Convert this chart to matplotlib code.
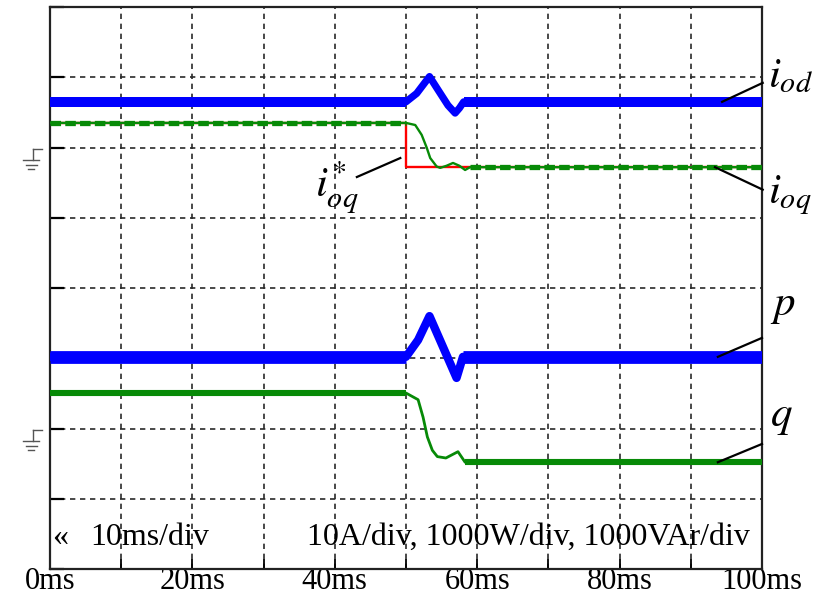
import numpy as np
import matplotlib
matplotlib.use('Agg')
import matplotlib.pyplot as plt
import matplotlib.transforms as mtransforms

plt.rcParams['font.family'] = ['Liberation Serif', 'DejaVu Serif']
plt.rcParams['mathtext.fontset'] = 'stix'

# ---- scope traces (time in ms) ----
# output current d axis (A)
t_iod = [0, 50, 51.5, 53.3, 54.5, 55.9, 56.9, 57.5, 58.1, 100]
iod = [6.5, 6.5, 7.7, 10.1, 8.2, 6.0, 4.9, 5.6, 6.5, 6.5]

# output current q axis (A)
t_ioq = [0, 50, 51.3, 52.2, 52.9, 53.4, 54.3, 54.8, 55.7, 56.6, 57.5, 58.3, 59.0, 100]
ioq = [3.5, 3.5, 3.2, 1.8, 0.0, -1.5, -2.7, -2.9, -2.6, -2.2, -2.6, -3.2, -2.8, -2.8]

# q axis current reference (A)
t_ioq_ref = [0, 50, 50, 100]
ioq_ref = [3.5, 3.5, -2.8, -2.8]

# active power (W)
t_p = [0, 50, 51.7, 53.3, 57.1, 58.0, 100]
p = [1020, 1020, 1260, 1600, 720, 1020, 1020]

# reactive power (VAr)
t_q = [0, 50, 51.7, 52.4, 53.0, 53.7, 54.4, 55.6, 57.3, 58.3, 100]
q = [505, 505, 410, 160, -120, -310, -400, -420, -330, -480, -480]

# channel grounds (div) and scales (unit per div)
cur_gnd, cur_scale = 6, 10
pow_gnd, pow_scale = 2, 1000

x_ticks = np.arange(0, 101, 10)
x_labels = ['0ms', '', '20ms', '', '40ms', '', '60ms', '', '80ms', '', '100ms']


def to_div(v, gnd, scale):
    return gnd + np.asarray(v, float) / scale


def draw_trace(ax, t, v, color, lw_band, lw_move, **kw):
    # thin line through the transient, thick noisy band in steady state
    ax.plot(t, v, color=color, lw=lw_move, solid_capstyle='butt', zorder=3)
    ax.plot(t[:2], v[:2], color=color, lw=lw_band, solid_capstyle='butt', zorder=3, **kw)
    ax.plot(t[-2:], v[-2:], color=color, lw=lw_band, solid_capstyle='butt', zorder=3, **kw)


def ground_mark(ax, level):
    # little earth symbol left of the frame, in pixel offsets
    tr = mtransforms.blended_transform_factory(ax.transAxes, ax.transData)
    px_x = 1 / 712.0
    px_y = 1 / 70.25
    segs = [((-17.3, -17.3), (-1, -12.5)),
            ((-17.3, -8.3), (-1, -1)),
            ((-27, -11), (-12.5, -12.5)),
            ((-24, -13), (-17, -17)),
            ((-22, -16), (-21, -21))]
    for xs, ys in segs:
        ax.plot([x * px_x for x in xs], [level + y * px_y for y in ys],
                color='#555555', lw=1.0, transform=tr, clip_on=False)


fig = plt.figure(figsize=(8.21, 5.96), dpi=100)
ax = fig.add_axes([50 / 821, 27 / 596, 712 / 821, 562 / 596])

ax.set_xlim(0, 100)
ax.set_ylim(0, 8)
ax.set_xticks(x_ticks)
ax.set_xticklabels(x_labels, fontsize=22)
for lbl in ax.get_xticklabels():
    lbl.set_va('baseline')
ax.set_yticks(np.arange(0, 9, 1))
ax.set_yticklabels([])
ax.tick_params(axis='x', direction='in', length=7, width=1.3, pad=14.5, top=False)
ax.tick_params(axis='y', direction='in', length=10, width=1.6, left=True, right=False)
ax.grid(True, color='#2a2a2a', lw=1.2, linestyle=(0, (3.2, 2.8)))
for s in ax.spines.values():
    s.set_linewidth(1.6)
    s.set_color('#222222')

# reference first so the measured current sits on top
ax.plot(t_ioq_ref, to_div(ioq_ref, cur_gnd, cur_scale), color='#ff0000', lw=1.7, zorder=2)
draw_trace(ax, t_ioq, to_div(ioq, cur_gnd, cur_scale), '#078a07', 3.8, 1.7,
           linestyle=(0, (2.0, 0.8)))
draw_trace(ax, t_iod, to_div(iod, cur_gnd, cur_scale), '#0000ff', 7.2, 5.2)
draw_trace(ax, t_p, to_div(p, pow_gnd, pow_scale), '#0000ff', 9.2, 6.0)
draw_trace(ax, t_q, to_div(q, pow_gnd, pow_scale), '#078a07', 4.4, 2.0)

ground_mark(ax, cur_gnd)
ground_mark(ax, pow_gnd)

# leader lines and trace names
lab_fs = 31
leaders = [
    (94.4, to_div(iod[-1], cur_gnd, cur_scale), 100.1, 6.92),
    (93.4, to_div(ioq[-1], cur_gnd, cur_scale), 100.1, 5.40),
    (43.1, 5.58, 49.2, 5.85),
    (93.8, to_div(p[-1], pow_gnd, pow_scale), 100.0, 3.29),
    (93.8, to_div(q[-1], pow_gnd, pow_scale), 100.0, 1.78),
]
for x0, y0, x1, y1 in leaders:
    ax.plot([x0, x1], [y0, y1], color='black', lw=1.6, clip_on=False, zorder=5)

ax.text(100.8, 6.85, r'$i_{od}$', fontsize=lab_fs, va='baseline', ha='left')
ax.text(100.8, 5.21, r'$i_{oq}$', fontsize=lab_fs, va='baseline', ha='left')
ax.text(37.2, 5.30, r'$i_{oq}^{*}$', fontsize=lab_fs, va='baseline', ha='left')
ax.text(101.1, 3.62, r'$p$', fontsize=lab_fs, va='baseline', ha='left')
ax.text(101.1, 2.03, r'$q$', fontsize=lab_fs, va='baseline', ha='left')

ax.text(0.3, 0.34, '\u00ab', fontsize=23, va='baseline', ha='left')
ax.text(5.6, 0.34, '10ms/div', fontsize=23, va='baseline', ha='left')
ax.text(98.3, 0.34, '10A/div, 1000W/div, 1000VAr/div', fontsize=23,
        va='baseline', ha='right')

fig.savefig('out.png', dpi=100)
